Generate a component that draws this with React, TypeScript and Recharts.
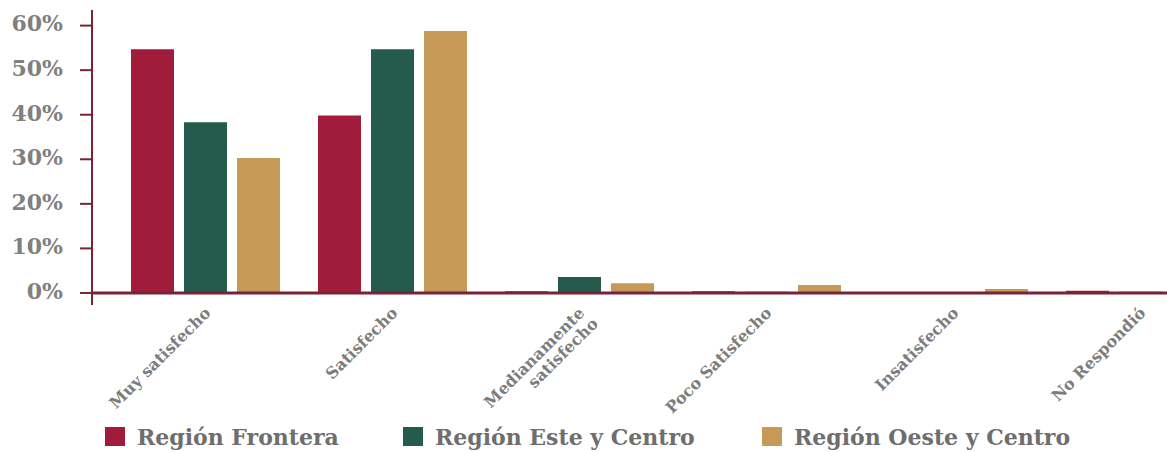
import React from "react";
import { BarChart, Bar, XAxis, YAxis, ReferenceLine } from "recharts";

const categories = [
  "Muy satisfecho",
  "Satisfecho",
  "Medianamente\nsatisfecho",
  "Poco Satisfecho",
  "Insatisfecho",
  "No Respondió",
];
const regionFrontera = [54.7, 39.8, 0.4, 0.4, 0, 0.5];
const regionEsteCentro = [38.3, 54.7, 3.6, 0.3, 0, 0.3];
const regionOesteCentro = [30.3, 58.8, 2.2, 1.8, 0.9, 0];
const yTicks = [0, 10, 20, 30, 40, 50, 60];

const seriesNames = ["Región Frontera", "Región Este y Centro", "Región Oeste y Centro"];
const seriesKeys = ["frontera", "este", "oeste"];
const seriesColors = ["#A11C3A", "#245B4C", "#C49A56"];

const AXIS = "#7A2236";
const SERIF = "'DejaVu Serif', serif";

const data = categories.map((category, i) => ({
  category,
  frontera: regionFrontera[i],
  este: regionEsteCentro[i],
  oeste: regionOesteCentro[i],
}));

function CategoryTick({ x, y, payload }: any) {
  const lines = String(payload.value).split("\n");
  return (
    <g transform={`translate(${x + 6},${y + 1}) rotate(-45)`}>
      <text
        textAnchor="end"
        fill="#7c7c7c"
        fontSize={16}
        fontWeight="bold"
        fontFamily={SERIF}
      >
        {lines.map((line, i) => (
          <tspan key={i} x={i === 0 ? 0 : 2} dy={i === 0 ? 0 : 17}>
            {line}
          </tspan>
        ))}
      </text>
    </g>
  );
}

const legendLefts = [105, 403, 762];

export default function App() {
  return (
    <div
      style={{
        position: "fixed",
        left: 0,
        top: 0,
        width: 1167,
        height: 452,
        overflow: "hidden",
        background: "#fff",
      }}
    >
      <BarChart
        width={1244}
        height={420}
        data={data}
        margin={{ top: 10, right: 10, bottom: 0, left: 0 }}
        barSize={43}
        barGap={10}
      >
        <XAxis
          dataKey="category"
          axisLine={false}
          tickLine={false}
          interval={0}
          height={115}
          padding={{ left: 20, right: 0 }}
          tick={<CategoryTick />}
        />
        <YAxis
          type="number"
          domain={[-2.7, 63.5]}
          allowDataOverflow
          ticks={yTicks}
          tickFormatter={(v: number) => `${v}%`}
          width={92}
          tickSize={12}
          tickMargin={17}
          axisLine={{ stroke: AXIS, strokeWidth: 2 }}
          tickLine={{ stroke: AXIS, strokeWidth: 2 }}
          tick={{ fill: "#808080", fontSize: 22, fontWeight: "bold", fontFamily: SERIF, dy: -2 }}
        />
        {seriesKeys.map((key, i) => (
          <Bar
            key={key}
            dataKey={key}
            name={seriesNames[i]}
            fill={seriesColors[i]}
            isAnimationActive={false}
          />
        ))}
        <ReferenceLine y={0} stroke={AXIS} strokeWidth={3} />
      </BarChart>
      <svg
        width={1167}
        height={37}
        style={{ position: "absolute", left: 0, top: 415, display: "block" }}
      >
        {seriesNames.map((name, i) => (
          <g key={name} transform={`translate(${legendLefts[i]},0)`}>
            <rect x={0} y={12} width={20} height={19} fill={seriesColors[i]} />
            <text
              x={32}
              y={30}
              fontFamily={SERIF}
              fontWeight="bold"
              fontSize={22}
              fill="#6e6e6e"
            >
              {name}
            </text>
          </g>
        ))}
      </svg>
    </div>
  );
}
